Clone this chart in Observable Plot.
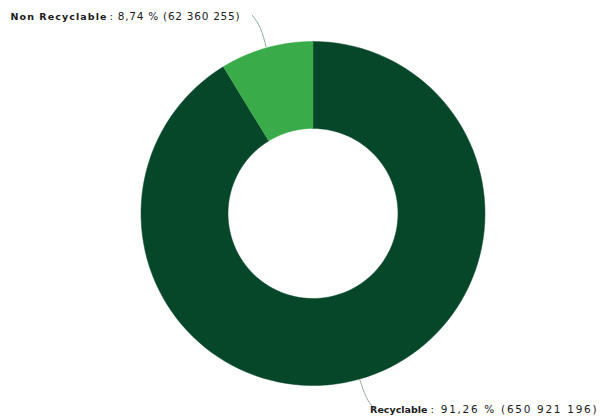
<!DOCTYPE html>
<html><head><meta charset="utf-8">
<script src="https://cdn.jsdelivr.net/npm/d3@7"></script>
<script src="https://cdn.jsdelivr.net/npm/@observablehq/plot@0.6"></script>
<style>body{margin:0;background:#fff;}</style>
</head><body><div id="chart"></div>
<script>
const categories = ["Recyclable", "Non Recyclable"];
const counts = [650921196, 62360255];
const percentLabels = ["91,26 %", "8,74 %"];
const countLabels = ["650 921 196", "62 360 255"];
const colors = ["#06472a", "#3aab49"];

const W = 603, H = 419;
const cx = 312.5, cy = 213, R = 172, r = 85;
const pie = d3.pie().sort(null)(counts);

// slice polygons
const slicePts = [];
pie.forEach((p, i) => {
  const n = 120;
  for (let k = 0; k <= n; k++) {
    const a = p.startAngle + (p.endAngle - p.startAngle) * k / n;
    slicePts.push({s: categories[i], x: cx + R * Math.sin(a), y: cy - R * Math.cos(a)});
  }
  for (let k = n; k >= 0; k--) {
    const a = p.startAngle + (p.endAngle - p.startAngle) * k / n;
    slicePts.push({s: categories[i], x: cx + r * Math.sin(a), y: cy - r * Math.cos(a)});
  }
});

// leader lines and labels (layout)
const labelSpec = [
  {colon: 430, y: 409, w1: null, w2: 166, lineEnd: [374, 409], mid: [366, 397]},
  {colon: 109, y: 16, w1: 96, w2: 130, lineEnd: [252, 15], mid: [260, 28]}
];
const leaderPts = [];
const textData = [];
pie.forEach((p, i) => {
  const a = (p.startAngle + p.endAngle) / 2;
  const sp = labelSpec[i];
  leaderPts.push({s: categories[i], x: cx + (R + 1) * Math.sin(a), y: cy - (R + 1) * Math.cos(a)});
  leaderPts.push({s: categories[i], x: sp.mid[0], y: sp.mid[1]});
  leaderPts.push({s: categories[i], x: sp.lineEnd[0], y: sp.lineEnd[1]});
  textData.push({name: categories[i], rest: ": " + percentLabels[i] + " (" + countLabels[i] + ")", xb: sp.colon - 3, x: sp.colon, y: sp.y, w1: sp.w1, w2: sp.w2});
});

const plot = Plot.plot({
  width: W, height: H,
  margin: 0,
  x: {type: "identity", axis: null},
  y: {type: "identity", axis: null},
  style: {fontFamily: "'DejaVu Sans', sans-serif"},
  marks: [
    Plot.line(leaderPts, {x: "x", y: "y", z: "s", curve: "natural", stroke: "#8fae9c", strokeWidth: 1}),
    Plot.line(slicePts, {x: "x", y: "y", z: "s", fill: d => colors[categories.indexOf(d.s)], stroke: d => colors[categories.indexOf(d.s)], strokeWidth: 0.5}),
    Plot.text(textData, {x: "xb", y: "y", text: "name", textAnchor: "end", fontWeight: "bold", fontSize: 9.5, fill: "#1a1a1a"}),
    Plot.text(textData, {x: "x", y: "y", text: "rest", textAnchor: "start", fontSize: 10.5, fill: "#1a1a1a"})
  ]
});
// spread label text to the reference widths
const groups = plot.querySelectorAll('g[aria-label="text"]');
groups[0].querySelectorAll("text").forEach((t, i) => { if (textData[i].w1) { t.setAttribute("textLength", textData[i].w1); t.setAttribute("lengthAdjust", "spacing"); } });
groups[1].querySelectorAll("text").forEach((t, i) => { t.setAttribute("textLength", textData[i].w2); t.setAttribute("lengthAdjust", "spacing"); });
document.getElementById("chart").appendChild(plot);
</script>
</body></html>
